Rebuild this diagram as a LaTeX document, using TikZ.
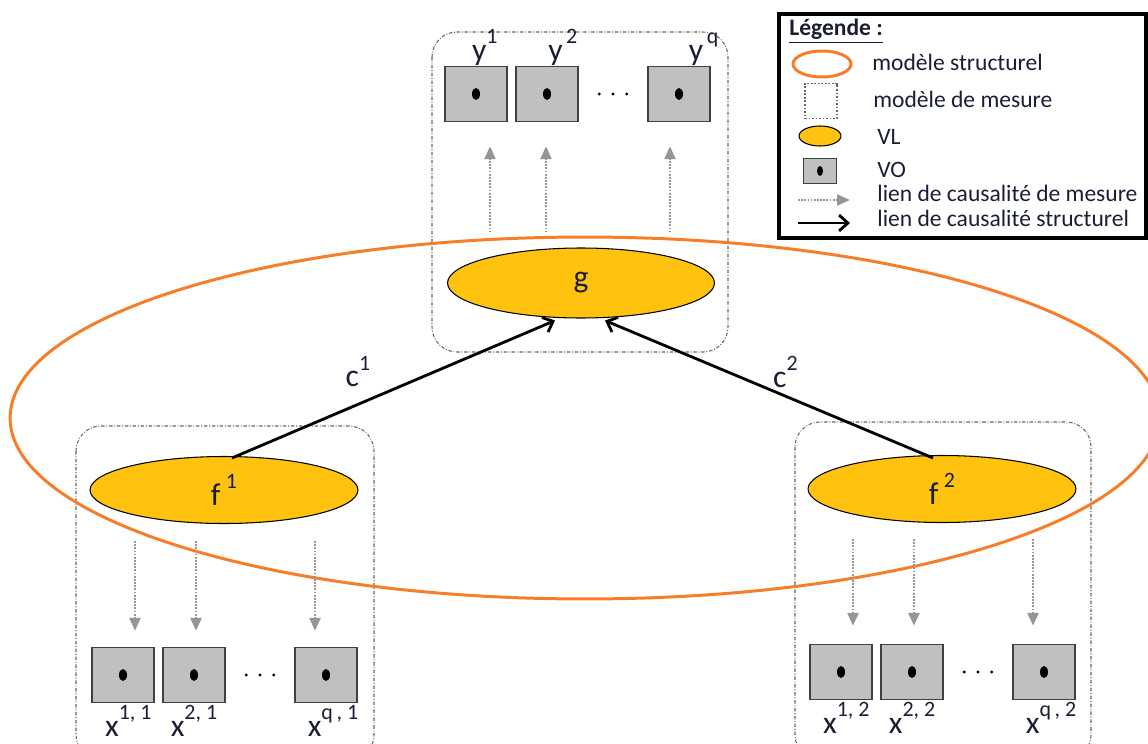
\documentclass[tikz,border=0pt]{standalone}
\usepackage{fontspec}
\setmainfont{Carlito}
\usetikzlibrary{arrows.meta,calc,positioning,shapes.geometric}

\definecolor{orangeS}{RGB}{247,125,41}
\definecolor{jauneVL}{RGB}{255,194,14}
\definecolor{grisVO}{RGB}{192,192,192}
\definecolor{grisLien}{RGB}{150,150,150}
\definecolor{encre}{RGB}{25,30,55}
\newcommand{\expo}[1]{\raisebox{.53em}{\fontsize{12.5}{13}\selectfont #1}}

\begin{document}
\begin{tikzpicture}[x=0.02cm,y=-0.02cm,
	mesure/.style={draw=gray!80!black, line width=0.6pt, dash pattern=on 2pt off 1pt on 0.5pt off 1pt, rounded corners=0.5cm},
	vl/.style={ellipse, draw=black, line width=0.6pt, fill=jauneVL, inner sep=0pt, text=encre, font=\fontsize{18}{20}\selectfont},
	vo/.style={rectangle, draw=black!75, line width=0.8pt, fill=grisVO, minimum width=1.24cm, minimum height=1.1cm, inner sep=0pt,
		path picture={\fill[black] (path picture bounding box.center) ellipse [x radius=0.08cm, y radius=0.12cm];}},
	lienM/.style={draw=grisLien, line width=1.5pt, dash pattern=on 1pt off 0.8pt, -{Triangle[length=0.26cm,width=0.22cm]}},
	lienS/.style={draw=black, line width=1.6pt, -{Straight Barb[length=5pt,width=9pt]}},
	lbl/.style={text=encre, font=\fontsize{18}{20}\selectfont, inner sep=0pt},
	leg/.style={anchor=west, text=encre, font=\fontsize{13.4}{15}\selectfont, inner sep=0pt}]

	\useasboundingbox (0,0) rectangle (1148,743);

	% modeles de mesure
	\draw[mesure] (432,32) rectangle (728,352);
	\draw[mesure] (76,426) rectangle (374,760);
	\draw[mesure] (795,422) rectangle (1091,760);

	% modele structurel
	\draw[orangeS, line width=1.7pt] (585,418) ellipse [x radius=11.5cm, y radius=3.62cm];

	% variables latentes
	\node[vl, minimum width=5.34cm, minimum height=1.4cm] (g) at (581,283) {g};
	\node[vl, minimum width=5.36cm, minimum height=1.34cm] (f1) at (224,490) {f\,\expo{1}};
	\node[vl, minimum width=5.36cm, minimum height=1.34cm] (f2) at (942,489) {f\,\expo{2}};

	% variables observees
	\node[vo] (y1) at (476,94) {};
	\node[vo] (y2) at (547,94) {};
	\node[vo] (yq) at (679,94) {};
	\node[vo] (x11) at (123,675) {};
	\node[vo] (x21) at (194,675) {};
	\node[vo] (xq1) at (326,675) {};
	\node[vo] (x12) at (841,672) {};
	\node[vo] (x22) at (912,672) {};
	\node[vo] (xq2) at (1044,672) {};

	\foreach \a/\b in {y2/yq, x21/xq1, x22/xq2}
		\foreach \t in {0.3,0.5,0.7}
			\fill[black] ($(\a.east)!\t!(\b.west)$) circle (1.6);

	\node[lbl, above=0pt of y1, xshift=5] (ly1) {y\expo{1}};
	\node[lbl, above=0pt of y2, xshift=9] (ly2) {y\expo{\,2}};
	\node[lbl, above=0pt of yq, xshift=14] (lyq) {y\expo{\,q}};
	\node[lbl, below=1pt of x11, xshift=3] (lx11) {x\expo{1, 1}};
	\node[lbl, below=1pt of x21, xshift=0] (lx21) {x\expo{2, 1}};
	\node[lbl, below=1pt of xq1, xshift=4] (lxq1) {x\expo{q\,, 1}};
	\node[lbl, below=1pt of x12, xshift=3] (lx12) {x\expo{1, 2}};
	\node[lbl, below=1pt of x22, xshift=0] (lx22) {x\expo{2, 2}};
	\node[lbl, below=1pt of xq2, xshift=4] (lxq2) {x\expo{q\,, 2}};

	% liens de mesure
	\foreach \b/\d in {y1/14, y2/-1, yq/-9}
		\draw[lienM] ($(g.north -| \b.south)+(\d,-15)$) -- ($(\b.south)+(\d,24)$);
	\foreach \b/\d in {x11/12, x21/2, xq1/-11}
		\draw[lienM] ($(f1.south -| \b.north)+(\d,17)$) -- ($(\b.north)+(\d,-16)$);
	\foreach \b/\d in {x12/12, x22/2, xq2/-11}
		\draw[lienM] ($(f2.south -| \b.north)+(\d,16)$) -- ($(\b.north)+(\d,-18)$);

	% liens structurels
	\draw[lienS] ($(f1.north)+(8,2)$) -- ($(g.south)+(-26,2)$)
		node[lbl, pos=0.39, above=9pt] (c1) {c\expo{1}};
	\draw[lienS] ($(f2.north)+(-9,3)$) -- ($(g.south)+(24,2)$)
		node[lbl, pos=0.45, above=4pt] (c2) {c\expo{2}};

	% legende
	\draw[line width=2.3pt] (779,14) rectangle (1146,238);
	\node[leg, font=\fontsize{13.4}{15}\selectfont\bfseries] (titre) at (789,31) {\underline{Légende :}};
	\node[ellipse, draw=orangeS, line width=1.7pt, minimum width=1.16cm, minimum height=0.52cm] (lgS) at (822,64) {};
	\node[draw=gray!80!black, line width=0.6pt, dash pattern=on 1pt off 1pt, minimum width=0.64cm, minimum height=0.7cm] (lgM) at (821,101) {};
	\node[ellipse, draw=black, line width=0.6pt, fill=jauneVL, minimum width=0.84cm, minimum height=0.4cm] (lgL) at (820,136) {};
	\node[rectangle, draw=black!75, line width=0.8pt, fill=grisVO, minimum width=0.66cm, minimum height=0.5cm, inner sep=0pt,
		path picture={\fill[black] (path picture bounding box.center) ellipse [x radius=0.06cm, y radius=0.1cm];}] (lgO) at (820,171) {};
	\coordinate (lmA) at (798,200);
	\coordinate (lmB) at (850,200);
	\coordinate (lsA) at (798,223);
	\coordinate (lsB) at (850,223);
	\draw[lienM] (lmA) -- (lmB);
	\draw[lienS] (lsA) -- (lsB);

	\node[leg] (tS) at (872,62) {modèle structurel};
	\node[leg] (tM) at (873,99) {modèle de mesure};
	\node[leg] (tL) at (877,137) {VL};
	\node[leg] (tO) at (877,170) {VO};
	\node[leg] (tlm) at (877,193) {lien de causalité de mesure};
	\node[leg] (tls) at (877,218) {lien de causalité structurel};
\end{tikzpicture}
\end{document}
